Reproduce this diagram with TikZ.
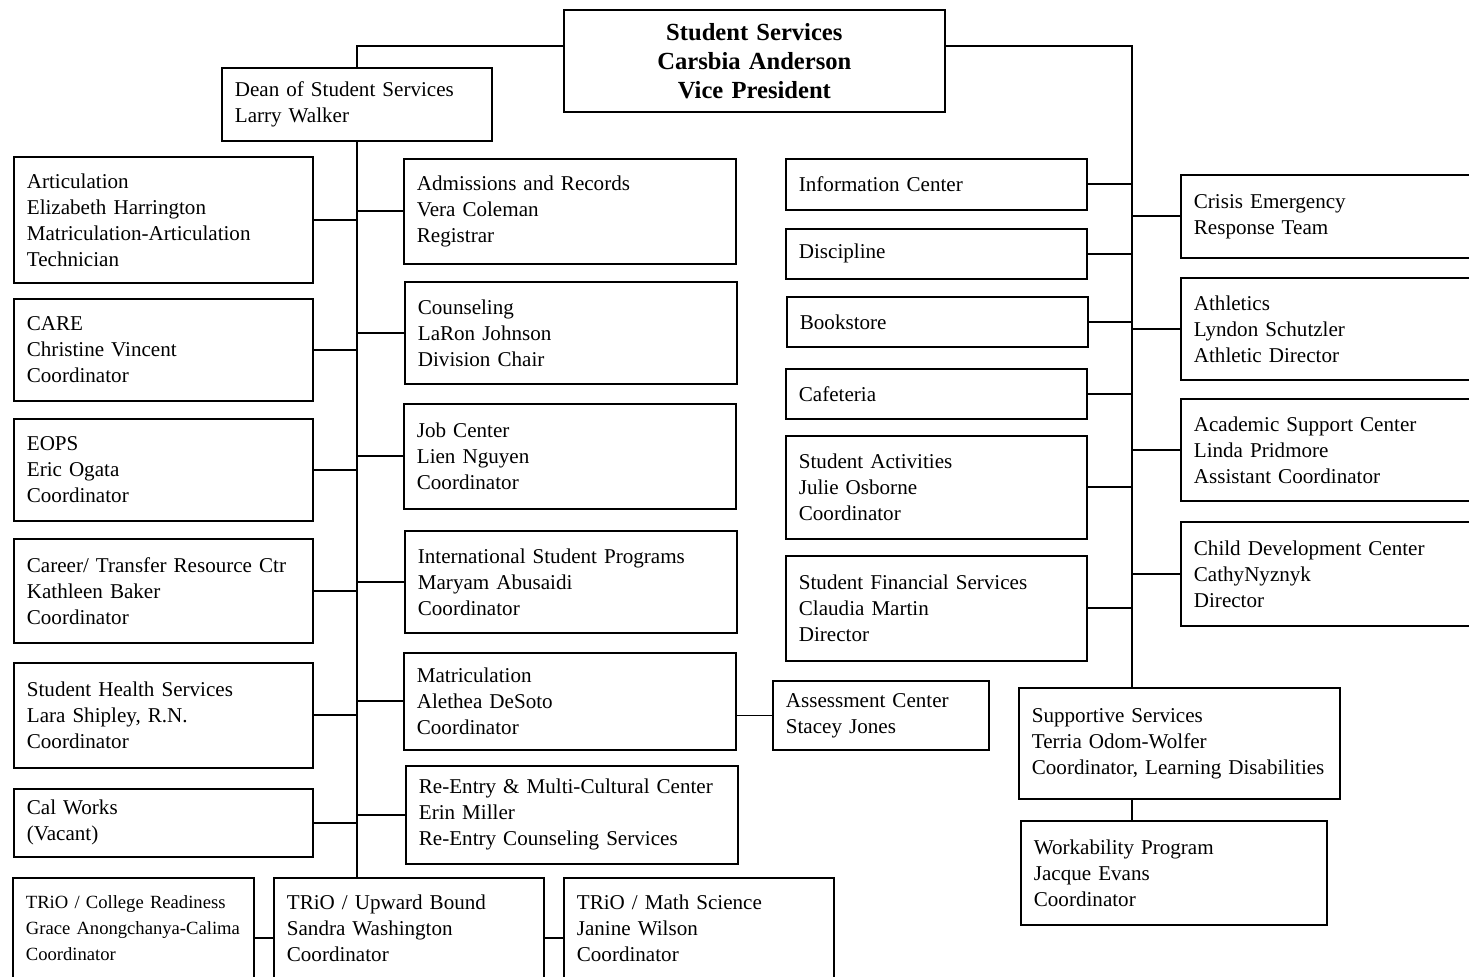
\documentclass[tikz,border=0pt]{standalone}
\usepackage{fontspec}
\setmainfont{Liberation Serif}
\tikzset{
  unit/.style={draw, line width=1pt, anchor=north west, align=left,
    inner xsep=0.26cm, inner ysep=0pt, font=\fontsize{12}{14.8}\selectfont},
  leftunit/.style={unit, text width=5.46cm},
  midunit/.style={unit, text width=6.12cm},
  svcunit/.style={unit, text width=5.50cm},
  rightunit/.style={unit, text width=5.48cm},
  triounit/.style={unit, text width=4.88cm, minimum height=2.02cm},
  link/.style={line width=1pt}
}
\begin{document}
\begin{tikzpicture}[x=0.02cm, y={(0,-0.02cm)}, line join=miter]
\path[use as bounding box, clip] (0,0) rectangle (1469,976);
% top of the chart
\node[unit, align=center, text width=7.10cm, minimum height=2.04cm,
  font=\fontsize{14}{16.5}\selectfont\bfseries] (vp) at (563,9)
  {Student Services\\Carsbia Anderson\\Vice President};
\node[unit, text width=4.88cm, minimum height=1.46cm] (dean) at (221,67)
  {Dean of Student Services\\Larry Walker};
% left column
\node[leftunit, minimum height=2.52cm] (artic) at (13,156)
  {Articulation\\Elizabeth Harrington\\Matriculation-Articulation\\Technician};
\node[leftunit, minimum height=2.04cm] (care) at (13,298)
  {CARE\\Christine Vincent\\Coordinator};
\node[leftunit, minimum height=2.04cm] (eops) at (13,418)
  {EOPS\\Eric Ogata\\Coordinator};
\node[leftunit, minimum height=2.08cm] (career) at (13,538)
  {Career/ Transfer Resource Ctr\\Kathleen Baker\\Coordinator};
\node[leftunit, minimum height=2.10cm] (health) at (13,662)
  {Student Health Services\\Lara Shipley, R.N.\\Coordinator};
\node[leftunit, minimum height=1.36cm] (calworks) at (13,788)
  {Cal Works\\(Vacant)};
% middle column
\node[midunit, minimum height=2.10cm] (admis) at (403,158)
  {Admissions and Records\\Vera Coleman\\Registrar};
\node[midunit, minimum height=2.04cm] (couns) at (404,281)
  {Counseling\\LaRon Johnson\\Division Chair};
\node[midunit, minimum height=2.10cm] (job) at (403,403)
  {Job Center\\Lien Nguyen\\Coordinator};
\node[midunit, minimum height=2.04cm] (intl) at (404,530)
  {International Student Programs\\Maryam Abusaidi\\Coordinator};
\node[midunit, minimum height=1.94cm] (matric) at (403,652)
  {Matriculation\\Alethea DeSoto\\Coordinator};
\node[midunit, minimum height=1.96cm] (reentry) at (405,765)
  {Re-Entry \& Multi-Cultural Center\\Erin Miller\\Re-Entry Counseling Services};
\node[unit, text width=3.80cm, minimum height=1.38cm] (assess) at (772,680)
  {Assessment Center\\Stacey Jones};
% services column
\node[svcunit, minimum height=1.02cm] (info) at (785,158) {Information Center};
\node[svcunit, minimum height=1.00cm] (disc) at (785,228) {Discipline};
\node[svcunit, minimum height=1.00cm] (books) at (786,296) {Bookstore};
\node[svcunit, minimum height=1.00cm] (cafe) at (785,368) {Cafeteria};
\node[svcunit, minimum height=2.06cm] (activ) at (785,435)
  {Student Activities\\Julie Osborne\\Coordinator};
\node[svcunit, minimum height=2.10cm] (finaid) at (785,555)
  {Student Financial Services\\Claudia Martin\\Director};
% right column
\node[rightunit, minimum height=1.66cm] (crisis) at (1180,174)
  {Crisis Emergency\\Response Team};
\node[rightunit, minimum height=2.04cm] (athl) at (1180,277)
  {Athletics\\Lyndon Schutzler\\Athletic Director};
\node[rightunit, minimum height=2.04cm] (acad) at (1180,398)
  {Academic Support Center\\Linda Pridmore\\Assistant Coordinator};
\node[rightunit, minimum height=2.08cm] (child) at (1180,521)
  {Child Development Center\\CathyNyznyk\\Director};
\node[unit, text width=5.90cm, minimum height=2.22cm] (supp) at (1018,687)
  {Supportive Services\\Terria Odom-Wolfer\\Coordinator, Learning Disabilities};
\node[unit, text width=5.60cm, minimum height=2.08cm] (work) at (1020,820)
  {Workability Program\\Jacque Evans\\Coordinator};
% TRiO row
\node[triounit, text width=4.30cm, font=\fontsize{10.6}{14.8}\selectfont] (college) at (12,877)
  {TRiO / College Readiness\\Grace Anongchanya-Calima\\Coordinator};
\node[triounit] (upward) at (273,877)
  {TRiO / Upward Bound\\Sandra Washington\\Coordinator};
\node[triounit] (mathsci) at (563,877)
  {TRiO / Math Science\\Janine Wilson\\Coordinator};
% connectors
\coordinate (rspine) at (1132,0);
\draw[link] ([yshift=0.3cm]vp.west) -| (dean.north);
\draw[link] ([yshift=0.3cm]vp.east) -| (rspine |- supp.north);
\draw[link] (rspine |- supp.south) -- (rspine |- work.north);
\draw[link] (dean.south) -- (dean.south |- upward.north);
\foreach \n in {artic,care,eops,career,health,calworks}
  \draw[link] (\n.east) -- (\n.east -| dean.south);
\foreach \n in {admis,couns,job,intl,matric,reentry}
  \draw[link] (\n.west) -- (\n.west -| dean.south);
\foreach \n in {info,disc,books,cafe,activ,finaid}
  \draw[link] (\n.east) -- (\n.east -| rspine);
\foreach \n in {crisis,athl,acad,child}
  \draw[link] (\n.west) -- (\n.west -| rspine);
\draw[link] (matric.east |- assess.west) -- (assess.west);
\draw[link] ([yshift=-0.2cm]college.east) -- ([yshift=-0.2cm]upward.west)
  ([yshift=-0.2cm]upward.east) -- ([yshift=-0.2cm]mathsci.west);
\end{tikzpicture}
\end{document}
